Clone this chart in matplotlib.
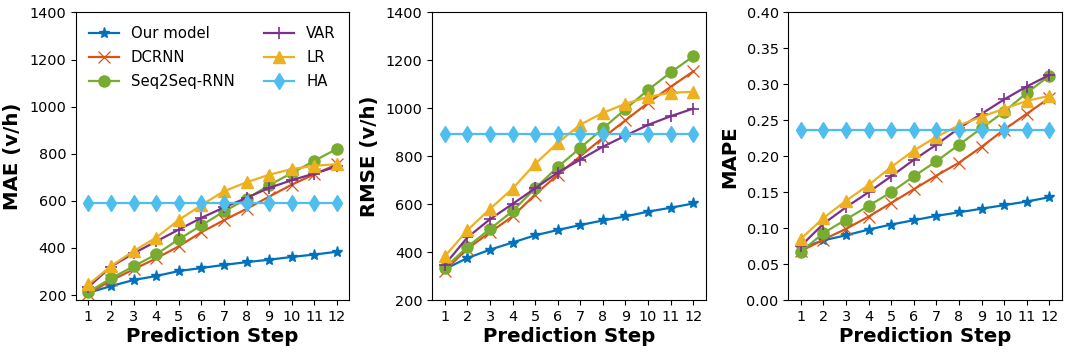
import numpy as np
import matplotlib.pyplot as plt

# Passos de previsão
steps = np.arange(1, 13)

# Séries (MAE)
mae_ours = [210, 238, 264, 281, 302, 315, 328, 340, 350, 362, 372, 384]
mae_dcrnn = [206, 262, 309, 356, 407, 467, 518, 566, 618, 669, 713, 755]
mae_seq = [213, 271, 322, 373, 437, 496, 555, 608, 667, 718, 770, 821]
mae_var = [234, 321, 377, 428, 478, 528, 572, 613, 655, 688, 716, 746]
mae_lr = [245, 323, 387, 444, 519, 582, 641, 679, 711, 735, 749, 756]
mae_ha = [592] * 12

# RMSE
rmse_ours = [329, 375, 410, 440, 470, 492, 513, 532, 549, 569, 585, 603]
rmse_dcrnn = [323, 414, 482, 549, 640, 723, 800, 877, 950, 1023, 1090, 1154]
rmse_seq = [333, 422, 496, 571, 666, 755, 835, 916, 997, 1077, 1150, 1217]
rmse_var = [347, 461, 537, 601, 666, 732, 786, 840, 886, 931, 967, 999]
rmse_lr = [382, 491, 580, 665, 768, 856, 932, 981, 1019, 1048, 1065, 1069]
rmse_ha = [892] * 12

# MAPE
mape_ours = [0.072, 0.083, 0.090, 0.098, 0.105, 0.111, 0.117, 0.122, 0.127, 0.132, 0.137, 0.143]
mape_dcrnn = [0.068, 0.084, 0.099, 0.116, 0.135, 0.154, 0.173, 0.191, 0.213, 0.237, 0.259, 0.281]
mape_seq = [0.067, 0.093, 0.112, 0.131, 0.150, 0.172, 0.193, 0.216, 0.239, 0.262, 0.288, 0.312]
mape_var = [0.075, 0.106, 0.129, 0.150, 0.172, 0.195, 0.216, 0.239, 0.259, 0.279, 0.297, 0.313]
mape_lr = [0.085, 0.114, 0.138, 0.160, 0.185, 0.208, 0.227, 0.243, 0.255, 0.266, 0.277, 0.284]
mape_ha = [0.237] * 12

labels = ['Our model', 'DCRNN', 'Seq2Seq-RNN', 'VAR', 'LR', 'HA']
colors = ['#0072BD', '#D95319', '#77AC30', '#7E2F8E', '#EDB120', '#4DBEEE']
markers = ['*', 'x', 'o', '+', '^', 'd']
msizes = [8, 8, 8, 9, 8, 8]
mews = [1.0, 0.9, 1.0, 1.2, 1.0, 1.0]

painel = [
    ('MAE (v/h)', [mae_ours, mae_dcrnn, mae_seq, mae_var, mae_lr, mae_ha], (179, 1400), 200),
    ('RMSE (v/h)', [rmse_ours, rmse_dcrnn, rmse_seq, rmse_var, rmse_lr, rmse_ha], (200, 1400), 200),
    ('MAPE', [mape_ours, mape_dcrnn, mape_seq, mape_var, mape_lr, mape_ha], (0, 0.4), 0.05),
]

fig = plt.figure(figsize=(10.72, 3.52), dpi=100)
lefts = [0.0709, 0.4033, 0.7354]

for i, (ylab, series, ylim, step) in enumerate(painel):
    ax = fig.add_axes([lefts[i], 0.1477, 0.2550, 0.8168])
    for s, lab, c, m, ms, mew in zip(series, labels, colors, markers, msizes, mews):
        ax.plot(steps, s, color=c, marker=m, markersize=ms, markeredgewidth=mew,
                linewidth=1.6, label=lab)
    ax.set_ylim(*ylim)
    ax.set_yticks(np.arange(0 if step < 1 else 200, ylim[1] + step / 2, step))
    ax.set_xticks(steps)
    ax.tick_params(labelsize=10.4)
    ax.set_xlabel('Prediction Step', fontsize=14.2, fontweight='bold', labelpad=2)
    ax.set_ylabel(ylab, fontsize=14.2, fontweight='bold', labelpad=5)
    if i == 0:
        ax.legend(ncol=2, frameon=False, fontsize=10.7, loc='upper left',
                  columnspacing=2.0, handletextpad=0.8, borderaxespad=0.5,
                  labelspacing=0.6)

plt.savefig('out.png', dpi=100)
